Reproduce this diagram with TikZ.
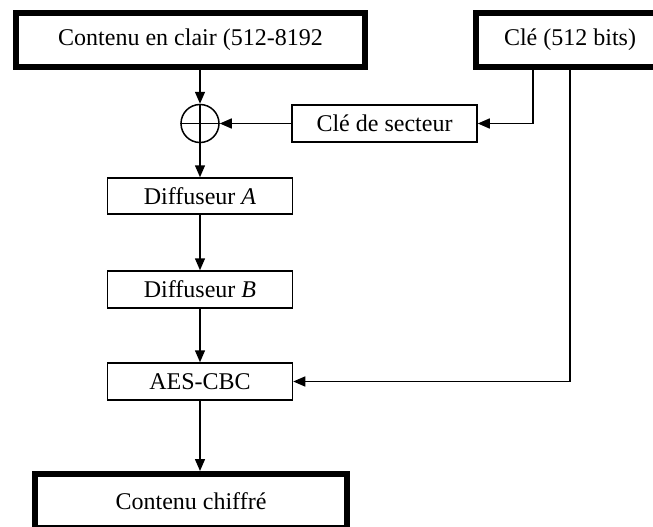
\documentclass[tikz,border=0pt]{standalone}
\usepackage{fontspec}
\setmainfont{Liberation Serif}
\usetikzlibrary{arrows.meta}

\begin{document}
\begin{tikzpicture}[x=1pt,y=-1pt,
    thinbox/.style={draw,line width=1.5pt,inner sep=0pt,minimum width=185pt,minimum height=37pt},
    thickbox/.style={draw,line width=6pt,inner sep=0pt},
    flow/.style={line width=1.5pt,-{Triangle[length=12pt,width=10pt]}},
    font=\fontsize{24}{28}\selectfont]
    \path[use as bounding box,clip] (0,0) rectangle (653,527);
    {

    % Drawing box of the plain content
    \node[thickbox,minimum width=349pt,minimum height=54pt] (plain) at (190.5,40) {Contenu en clair (512-8192};%

    % Drawing box of the key
    \node[thickbox,minimum width=188pt,minimum height=54pt] (key) at (570,40) {Clé (512 bits)};%

    % Drawing xor
    \node[circle,draw,line width=1.5pt,minimum size=38pt,inner sep=0pt] (xor) at (200,123.5) {};%
    \draw [line width=1.5pt] (xor.west) -- (xor.east);%
    \draw [line width=1.5pt] (xor.north) -- (xor.south);%

    % Drawing the thin boxes
    \node[thinbox] (sector) at (384.5,123.5) {Clé de secteur};%
    \node[thinbox,minimum height=36pt] (diffA) at (200,196) {Diffuseur \textit{A}};%
    \node[thinbox] (diffB) at (200,289.5) {Diffuseur \textit{B}};%
    \node[thinbox] (aes) at (200,381.5) {AES-CBC};%

    % Drawing box of the ciphered content
    \node[thickbox,minimum width=312pt,minimum height=54pt] (cipher) at (191,501) {Contenu chiffré};%

    % Drawing main flow
    \draw [flow] (plain.south -| xor.north) -- (xor.north);%
    \draw [flow] (xor.south) -- (diffA.north);%
    \draw [flow] (diffA.south) -- (diffB.north);%
    \draw [flow] (diffB.south) -- (aes.north);%
    \draw [flow] (aes.south) -- (cipher.north -| aes.south);%

    % Drawing key lines
    \coordinate (keyleg) at (533,68);%
    \draw [flow] (keyleg) |- (sector.east);%
    \draw [flow] (sector.west) -- (xor.east);%
    \draw [flow] (key.south) |- (aes.east);%
    }
\end{tikzpicture}
\end{document}
